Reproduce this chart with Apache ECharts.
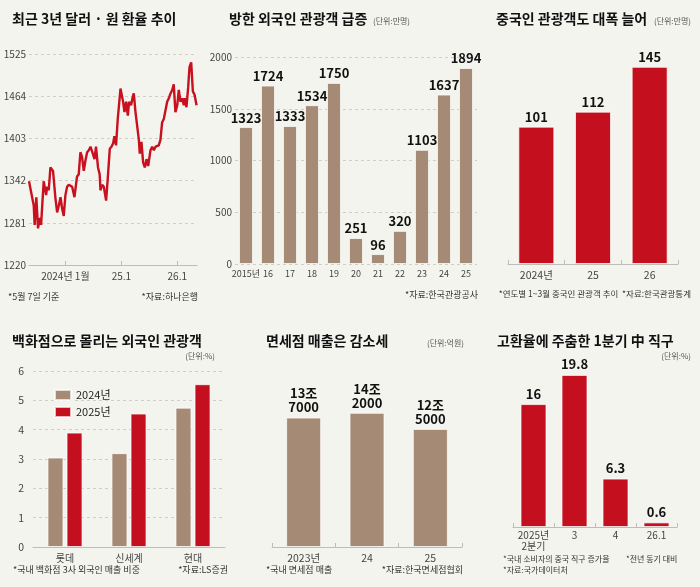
<!DOCTYPE html>
<html>
<head>
<meta charset="utf-8">
<script src="https://cdn.jsdelivr.net/npm/echarts@6/dist/echarts.min.js"></script>
<style>
  html, body { margin: 0; padding: 0; background: #f4f4ef; }
  #main { width: 700px; height: 587px; }
</style>
</head>
<body>
<div id="main"></div>
<script>
// 최근 3년 달러·원 환율
var rateDates = ['2023-05-08','2023-06-08','2023-06-14','2023-06-25','2023-07-06','2023-07-17','2023-07-26',
  '2023-08-12','2023-08-28','2023-09-03','2023-09-14','2023-09-25','2023-10-12','2023-10-28','2023-11-08',
  '2023-11-19','2023-11-30','2023-12-11','2023-12-21','2024-01-01','2024-01-12','2024-01-23','2024-02-14',
  '2024-02-29','2024-03-17','2024-03-28','2024-04-08','2024-04-19','2024-04-30','2024-05-11','2024-05-22',
  '2024-06-02','2024-06-13','2024-06-28','2024-07-09','2024-07-19','2024-08-01','2024-08-12','2024-08-17',
  '2024-08-28','2024-09-08','2024-09-23','2024-10-04','2024-10-17','2024-10-28','2024-11-08','2024-11-16',
  '2024-11-27','2024-12-08','2024-12-19','2024-12-26','2025-01-06','2025-01-12','2025-01-21','2025-02-01',
  '2025-02-12','2025-02-20','2025-03-05','2025-03-16','2025-03-23','2025-04-03','2025-04-14','2025-04-25',
  '2025-05-01','2025-05-12','2025-05-23','2025-06-03','2025-06-14','2025-06-25','2025-07-10','2025-07-21',
  '2025-08-01','2025-08-12','2025-09-02','2025-09-13','2025-09-24','2025-10-05','2025-10-16','2025-10-27',
  '2025-11-07','2025-11-18','2025-11-29','2025-12-09','2025-12-20','2026-01-01','2026-01-11','2026-01-22',
  '2026-02-02','2026-02-13','2026-02-19','2026-03-02','2026-03-13','2026-03-22','2026-04-02','2026-04-13',
  '2026-04-24','2026-05-07'];
var rateValues = [1341,1306,1278,1318,1273,1288,1278,1341,1321,1333,1328,1361,1356,1316,1296,
  1306,1318,1301,1291,1321,1333,1336,1333,1318,1348,1351,1383,1376,1356,1371,1383,
  1386,1391,1381,1373,1391,1361,1351,1328,1336,1333,1313,1346,1388,1391,1396,1406,
  1393,1431,1458,1475,1475,1456,1441,1456,1436,1456,1451,1463,1468,1441,1421,1401,
  1381,1398,1368,1361,1373,1363,1386,1391,1386,1391,1393,1401,1426,1431,1433,1456,
  1461,1468,1473,1481,1441,1451,1473,1456,1461,1451,1461,1448,1476,1506,1513,1471,
  1466,1451];
var rateTickDates = ['2024-01-01', '2025-01-01', '2026-01-01'];
var rateTickLabels = ['2024년 1월', '25.1', '26.1'];

// 방한 외국인 관광객 (만명)
var touristYears = ['2015년','16','17','18','19','20','21','22','23','24','25'];
var touristValues = [1323,1724,1333,1534,1750,251,96,320,1103,1637,1894];

// 중국인 관광객 1~3월 (만명)
var chinaYears = ['2024년','25','26'];
var chinaValues = [101,112,145];

// 백화점 3사 외국인 매출 비중 (%)
var deptStores = ['롯데','신세계','현대'];
var dept2024 = [3.05,3.2,4.75];
var dept2025 = [3.9,4.55,5.55];

// 면세점 매출 (억원)
var dutyYears = ['2023년','24','25'];
var dutyValues = [137000,142000,125000];
var dutyLabels = ['13조\n7000','14조\n2000','12조\n5000'];

// 중국 직구 증가율 (%)
var directQuarters = ['2025년\n2분기','3','4','26.1'];
var directValues = [16,19.8,6.3,0.6];

var KR = "'Noto Sans CJK KR', sans-serif";
var NUM = "'Liberation Sans Narrow', 'Noto Sans CJK KR', sans-serif";
var BROWN = '#a58a76';
var RED = '#c4101e';
var GRID_LINE = { show: true, lineStyle: { color: '#cfcfca', type: [3, 3], width: 1 } };
var AXIS_LINE = { show: true, lineStyle: { color: '#bdbdb8', width: 1 } };
var BAR_BORDER = { borderColor: 'rgba(255,255,255,0.7)', borderWidth: 1 };
var plain = function (v) { return String(v); };

function ts(d) { return +new Date(d + 'T00:00:00'); }

function txt(text, pos, size, bold, color) {
  var t = { text: text, padding: 0, textStyle: { fontFamily: KR, fontSize: size, fontWeight: bold ? 'bold' : 'normal', color: color || '#222' } };
  for (var k in pos) t[k] = pos[k];
  return t;
}

var tickTimes = rateTickDates.map(ts);

var myChart = echarts.init(document.getElementById('main'), null, { renderer: 'canvas' });

myChart.setOption({
  backgroundColor: '#f4f4ef',
  animation: false,
  title: [
    txt('최근 3년 달러 · 원 환율 추이', { left: 12, top: 12 }, 14, true, '#111'),
    txt('*5월 7일 기준', { left: 8, top: 292 }, 9, false, '#333'),
    txt('*자료:하나은행', { right: 502, top: 292 }, 9, false, '#333'),

    txt('방한 외국인 관광객 급증', { left: 229, top: 12 }, 14, true, '#111'),
    txt('(단위:만명)', { left: 373, top: 17 }, 8, false, '#555'),
    txt('*자료:한국관광공사', { right: 222, top: 290 }, 9, false, '#333'),

    txt('중국인 관광객도 대폭 늘어', { left: 496, top: 12 }, 14, true, '#111'),
    txt('(단위:만명)', { right: 9, top: 17 }, 8, false, '#555'),
    txt('*연도별 1~3월 중국인 관광객 추이  *자료:한국관광통계', { right: 9, top: 290 }, 8.5, false, '#333'),

    txt('백화점으로 몰리는 외국인 관광객', { left: 12, top: 334 }, 14, true, '#111'),
    txt('(단위:%)', { right: 485, top: 352 }, 8, false, '#555'),
    txt('*국내 백화점 3사 외국인 매출 비중', { left: 13, top: 565 }, 9, false, '#333'),
    txt('*자료:LS증권', { right: 472, top: 565 }, 9, false, '#333'),

    txt('면세점 매출은 감소세', { left: 266, top: 334 }, 14, true, '#111'),
    txt('(단위:억원)', { right: 236, top: 339 }, 8, false, '#555'),
    txt('*국내 면세점 매출', { left: 266, top: 565 }, 9, false, '#333'),
    txt('*자료:한국면세점협회', { right: 237, top: 565 }, 9, false, '#333'),

    txt('고환율에 주춤한 1분기 中 직구', { left: 497, top: 334 }, 14, true, '#111'),
    txt('(단위:%)', { right: 9, top: 352 }, 8, false, '#555'),
    txt('*국내 소비자의 중국 직구 증가율', { left: 503, top: 555 }, 8, false, '#333'),
    txt('*전년 동기 대비', { left: 626, top: 555 }, 8, false, '#333'),
    txt('*자료:국가데이터처', { left: 503, top: 566 }, 8, false, '#333')
  ],
  legend: {
    data: ['2024년', '2025년'],
    left: 49, top: 384, orient: 'vertical',
    itemWidth: 16, itemHeight: 10, itemGap: 5, icon: 'rect',
    textStyle: { fontFamily: NUM, fontSize: 11, color: '#222' }
  },
  grid: [
    { left: 29, top: 54, width: 168, height: 211 },
    { left: 235, top: 57, width: 242, height: 207 },
    { left: 508, top: 60, width: 170, height: 204 },
    { left: 33, top: 371, width: 192, height: 176 },
    { left: 272, top: 358, width: 190, height: 189 },
    { left: 513, top: 358, width: 164, height: 169 }
  ],
  xAxis: [
    {
      gridIndex: 0, type: 'value', min: ts('2023-05-08'), max: ts('2026-05-10'),
      axisLine: AXIS_LINE,
      axisTick: { show: true, inside: true, length: 4, lineStyle: { color: '#bdbdb8' }, customValues: tickTimes },
      axisLabel: {
        fontFamily: NUM, fontSize: 10, color: '#444', margin: 6,
        customValues: tickTimes,
        formatter: function (v) {
          var i = tickTimes.indexOf(v);
          return i >= 0 ? rateTickLabels[i] : '';
        }
      },
      splitLine: { show: false }
    },
    { gridIndex: 1, type: 'category', data: touristYears, axisLine: { show: false }, axisTick: { show: false },
      axisLabel: { interval: 0, fontFamily: NUM, fontSize: 9, color: '#444', margin: 5 } },
    { gridIndex: 2, type: 'category', data: chinaYears, axisLine: AXIS_LINE,
      axisTick: { show: true, inside: true, length: 4, lineStyle: { color: '#bdbdb8' } },
      axisLabel: { interval: 0, fontFamily: NUM, fontSize: 10.5, color: '#444', margin: 6 } },
    { gridIndex: 3, type: 'category', data: deptStores, axisLine: AXIS_LINE, axisTick: { show: false },
      axisLabel: { interval: 0, fontFamily: KR, fontSize: 10, color: '#444', margin: 6 } },
    { gridIndex: 4, type: 'category', data: dutyYears, axisLine: AXIS_LINE,
      axisTick: { show: true, inside: true, length: 4, lineStyle: { color: '#bdbdb8' } },
      axisLabel: { interval: 0, fontFamily: NUM, fontSize: 10.5, color: '#444', margin: 6 } },
    { gridIndex: 5, type: 'category', data: directQuarters, axisLine: AXIS_LINE,
      axisTick: { show: true, inside: true, length: 4, lineStyle: { color: '#bdbdb8' } },
      axisLabel: { interval: 0, fontFamily: NUM, fontSize: 10, color: '#444', margin: 3, lineHeight: 10.5 } }
  ],
  yAxis: [
    { gridIndex: 0, type: 'value', min: 1220, max: 1525, interval: 61,
      axisLine: { show: false }, axisTick: { show: false }, splitLine: GRID_LINE,
      axisLabel: { formatter: plain, fontFamily: NUM, fontSize: 10, color: '#444', margin: 3 } },
    { gridIndex: 1, type: 'value', min: 0, max: 2000, interval: 500,
      axisLine: { show: false }, axisTick: { show: false }, splitLine: GRID_LINE,
      axisLabel: { formatter: plain, fontFamily: NUM, fontSize: 10, color: '#444', margin: 3 } },
    { gridIndex: 2, type: 'value', min: 0, max: 150, show: false, splitLine: { show: false } },
    { gridIndex: 3, type: 'value', min: 0, max: 6, interval: 1,
      axisLine: { show: false }, axisTick: { show: false }, splitLine: GRID_LINE,
      axisLabel: { fontFamily: NUM, fontSize: 10.5, color: '#444', margin: 9 } },
    { gridIndex: 4, type: 'value', min: 0, max: 200000, show: false, splitLine: { show: false } },
    { gridIndex: 5, type: 'value', min: 0, max: 22, show: false, splitLine: { show: false } }
  ],
  series: [
    {
      type: 'line', xAxisIndex: 0, yAxisIndex: 0, symbol: 'none',
      lineStyle: { color: '#c8101f', width: 2.4 },
      data: rateDates.map(function (d, i) { return [ts(d), rateValues[i]]; })
    },
    {
      type: 'bar', xAxisIndex: 1, yAxisIndex: 1, barWidth: 14, data: touristValues,
      itemStyle: Object.assign({ color: BROWN }, BAR_BORDER),
      label: { show: true, position: 'top', distance: 3, fontFamily: NUM, fontSize: 13, fontWeight: 'bold', color: '#111' }
    },
    {
      type: 'bar', xAxisIndex: 2, yAxisIndex: 2, barWidth: 36, data: chinaValues,
      itemStyle: Object.assign({ color: RED }, BAR_BORDER),
      label: { show: true, position: 'top', distance: 3, fontFamily: NUM, fontSize: 13, fontWeight: 'bold', color: '#111' }
    },
    {
      name: '2024년', type: 'bar', xAxisIndex: 3, yAxisIndex: 3, barWidth: 16, barGap: '19%', data: dept2024,
      itemStyle: Object.assign({ color: BROWN }, BAR_BORDER)
    },
    {
      name: '2025년', type: 'bar', xAxisIndex: 3, yAxisIndex: 3, barWidth: 16, barGap: '19%', data: dept2025,
      itemStyle: Object.assign({ color: RED }, BAR_BORDER)
    },
    {
      type: 'bar', xAxisIndex: 4, yAxisIndex: 4, barWidth: 35, data: dutyValues,
      itemStyle: Object.assign({ color: BROWN }, BAR_BORDER),
      label: { show: true, position: 'top', distance: 3, fontFamily: NUM, fontSize: 13, fontWeight: 'bold',
        color: '#111', lineHeight: 14, align: 'center',
        formatter: function (p) { return dutyLabels[p.dataIndex]; } }
    },
    {
      type: 'bar', xAxisIndex: 5, yAxisIndex: 5, barWidth: 26, data: directValues,
      itemStyle: Object.assign({ color: RED }, BAR_BORDER),
      label: { show: true, position: 'top', distance: 4, fontFamily: NUM, fontSize: 13, fontWeight: 'bold', color: '#111' }
    }
  ]
});
</script>
</body>
</html>
